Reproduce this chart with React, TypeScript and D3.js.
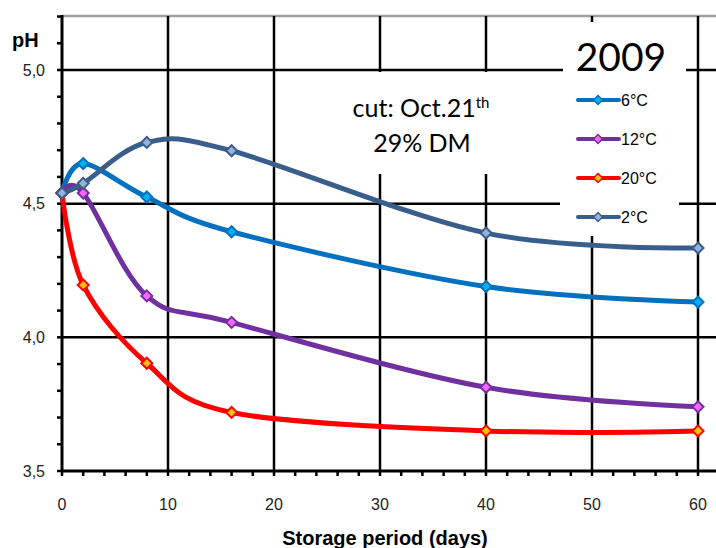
import React from "react";
import * as d3 from "d3";

const days = [0, 2, 8, 16, 40, 60];
const seriesNames = ["6°C", "12°C", "20°C", "2°C"];
const ph6 = [4.54, 4.65, 4.525, 4.395, 4.19, 4.132];
const ph12 = [4.54, 4.54, 4.155, 4.056, 3.813, 3.74];
const ph20 = [4.54, 4.196, 3.903, 3.719, 3.65, 3.65];
const ph2 = [4.54, 4.576, 4.729, 4.698, 4.39, 4.334];
const lineColors = ["#0070C0", "#7030A0", "#FF0000", "#3A5E8C"];
const markerFills = ["#00B0F0", "#FF66FF", "#FFC000", "#95B3D7"];
const xTicks = [0, 10, 20, 30, 40, 50, 60];
const yTicks = [3.5, 4.0, 4.5, 5.0];
const yTickLabels = ["3,5", "4,0", "4,5", "5,0"];

const W = 716;
const H = 548;
const left = 62;
const top = 16;
const bottom = 471;

export default function App() {
  const x = d3.scaleLinear().domain([0, 60]).range([left, 698]);
  const y = d3.scaleLinear().domain([3.5, 5.0]).range([bottom, 70]);
  const all = [ph6, ph12, ph20, ph2];
  const line = d3
    .line<[number, number]>()
    .x((d) => x(d[0]))
    .y((d) => y(d[1]))
    .curve(d3.curveCardinal.tension(0));
  const diamond = (cx: number, cy: number, r: number) =>
    `M${cx},${cy - r}L${cx + r},${cy}L${cx},${cy + r}L${cx - r},${cy}Z`;
  const minorY = d3.range(35, 53).map((v) => v / 10);
  const minorX = d3.range(0, 72, 2);
  const font = "'Liberation Sans', Arial, sans-serif";
  const cal = "Lato, 'Open Sans', sans-serif";

  return (
    <svg
      width={W}
      height={H}
      style={{ position: "absolute", left: 0, top: 0, background: "#fff" }}
    >
      {/* top border */}
      <line x1={left} x2={W} y1={top} y2={top} stroke="#A0A0A0" strokeWidth={2.5} />
      {/* horizontal gridlines */}
      {yTicks.slice(1).map((t) => (
        <line key={"hg" + t} x1={left} x2={W} y1={y(t)} y2={y(t)} stroke="#000" strokeWidth={2.5} />
      ))}
      {/* vertical gridlines */}
      {xTicks.slice(1).map((t) => (
        <line key={"vg" + t} x1={x(t)} x2={x(t)} y1={top} y2={bottom} stroke="#000" strokeWidth={2.5} />
      ))}
      {/* white boxes */}
      <rect x={563} y={22} width={123} height={60} fill="#fff" />
      <rect x={560} y={80} width={119} height={156} fill="#fff" />
      <rect x={340} y={72} width={170} height={102} fill="#fff" />
      {/* axes */}
      <line x1={left} x2={left} y1={top - 1} y2={bottom + 1} stroke="#000" strokeWidth={3} />
      <line x1={left - 1} x2={W} y1={bottom} y2={bottom} stroke="#000" strokeWidth={3} />
      {minorY.map((t) => (
        <line key={"my" + t} x1={left - 5} x2={left} y1={y(t)} y2={y(t)} stroke="#000" strokeWidth={2.5} />
      ))}
      {minorX.map((t) => (
        <line key={"mx" + t} x1={x(t)} x2={x(t)} y1={bottom} y2={bottom + 5} stroke="#000" strokeWidth={2.5} />
      ))}
      {/* tick labels */}
      {yTicks.map((t, i) => (
        <text key={"yl" + t} x={45} y={y(t)} dy="0.35em" textAnchor="end" fontFamily={font} fontSize={16} fill="#222">
          {yTickLabels[i]}
        </text>
      ))}
      {xTicks.map((t) => (
        <text key={"xl" + t} x={x(t)} y={510} textAnchor="middle" fontFamily={font} fontSize={16} fill="#222">
          {t}
        </text>
      ))}
      <text x={12} y={47} fontFamily={font} fontSize={20} fontWeight="bold" fill="#000">
        pH
      </text>
      <text x={385} y={545} textAnchor="middle" fontFamily={font} fontSize={20} fontWeight="bold" fill="#000">
        Storage period (days)
      </text>
      {/* annotation */}
      <text x={421} y={117} textAnchor="middle" fontFamily={cal} fontSize={25} fill="#000">
        cut: Oct.21<tspan dy={-9} fontSize={15}>th</tspan>
      </text>
      <text x={422} y={152} textAnchor="middle" fontFamily={cal} fontSize={25} fill="#000">
        29% DM
      </text>
      <text x={621} y={71} textAnchor="middle" fontFamily={cal} fontSize={39} fill="#000">
        2009
      </text>
      {/* series */}
      {all.map((vals, si) => {
        const pts = days.map((d, i) => [d, vals[i]] as [number, number]);
        return (
          <g key={"s" + si}>
            <path d={line(pts) || ""} fill="none" stroke={lineColors[si]} strokeWidth={5} strokeLinejoin="round" />
            {pts.map((p, i) => (
              <path
                key={i}
                d={diamond(x(p[0]), y(p[1]), 5.5)}
                fill={markerFills[si]}
                stroke={lineColors[si]}
                strokeWidth={2}
              />
            ))}
          </g>
        );
      })}
      {/* legend */}
      {seriesNames.map((n, i) => {
        const ly = [100, 139, 178, 217][i];
        return (
          <g key={"lg" + n}>
            <line x1={578} x2={619} y1={ly} y2={ly} stroke={lineColors[i]} strokeWidth={4} strokeLinecap="round" />
            <path d={diamond(598, ly, 4.5)} fill={markerFills[i]} stroke={lineColors[i]} strokeWidth={1.5} />
            <text x={621} y={ly} dy="0.35em" fontFamily={font} fontSize={16} fill="#000">
              {n}
            </text>
          </g>
        );
      })}
    </svg>
  );
}
